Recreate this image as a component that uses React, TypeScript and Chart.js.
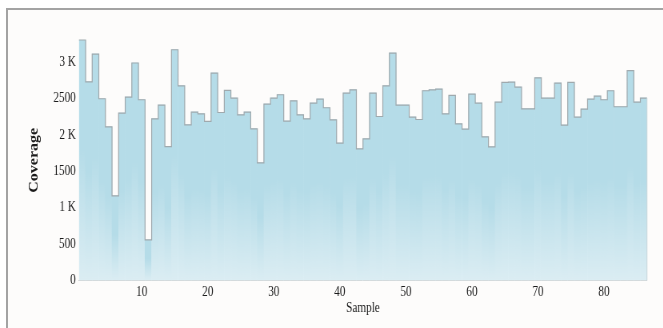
import React, { useEffect, useRef } from 'react';
import { Chart, registerables } from 'chart.js';

Chart.register(...registerables);

const samples = [
  '1', '2', '3', '4', '5', '6', '7', '8', '9', '10',
  '11', '12', '13', '14', '15', '16', '17', '18', '19', '20',
  '21', '22', '23', '24', '25', '26', '27', '28', '29', '30',
  '31', '32', '33', '34', '35', '36', '37', '38', '39', '40',
  '41', '42', '43', '44', '45', '46', '47', '48', '49', '50',
  '51', '52', '53', '54', '55', '56', '57', '58', '59', '60',
  '61', '62', '63', '64', '65', '66', '67', '68', '69', '70',
  '71', '72', '73', '74', '75', '76', '77', '78', '79', '80',
  '81', '82', '83', '84', '85', '86',
];

const coverage = [
  3304, 2730, 3111, 2497, 2111, 1162, 2300, 2520, 2988, 2483,
  557, 2221, 2410, 1840, 3170, 2675, 2139, 2313, 2290, 2185,
  2850, 2308, 2611, 2506, 2276, 2313, 2084, 1616, 2423, 2506,
  2552, 2190, 2469, 2276, 2221, 2437, 2492, 2373, 2208, 1887,
  2575, 2620, 1809, 1946, 2575, 2253, 2675, 3125, 2410, 2410,
  2245, 2212, 2607, 2620, 2630, 2290, 2542, 2153, 2080, 2561,
  2437, 1974, 1836, 2451, 2721, 2726, 2657, 2359, 2359, 2785,
  2506, 2506, 2712, 2135, 2721, 2245, 2355, 2492, 2533, 2483,
  2607, 2387, 2387, 2882, 2451, 2506,
];

const xTickLabels = ['10', '20', '30', '40', '50', '60', '70', '80'];
const yTickValues = [0, 500, 1000, 1500, 2000, 2500, 3000];
const yMax = 3304;

const SERIF = "'Liberation Serif', 'Times New Roman', serif";
const TOP_COLOR = '#b5dce8';
const BOTTOM_COLOR = '#dbedf3';
const OUTLINE_COLOR = '#a0a9ad';

function formatY(v: number): string {
  if (v !== 0 && v % 1000 === 0) return `${v / 1000} K`;
  return String(v);
}

const stepOutline = {
  id: 'stepOutline',
  afterDatasetsDraw(chart: any) {
    const meta = chart.getDatasetMeta(0);
    if (!meta || !meta.data || !meta.data.length) return;
    const ctx = chart.ctx;
    ctx.save();
    ctx.beginPath();
    let lastR = 0;
    let lastBase = 0;
    meta.data.forEach((bar: any, i: number) => {
      const { x, y, width, base } = bar.getProps(['x', 'y', 'width', 'base'], true);
      const l = x - width / 2;
      const r = x + width / 2;
      if (i === 0) ctx.moveTo(l, y);
      else ctx.lineTo(l, y);
      ctx.lineTo(r, y);
      lastR = r;
      lastBase = base;
    });
    ctx.strokeStyle = OUTLINE_COLOR;
    ctx.lineWidth = 1.2;
    ctx.lineJoin = 'miter';
    ctx.stroke();
    const lastBar = meta.data[meta.data.length - 1];
    ctx.beginPath();
    ctx.moveTo(lastR, lastBar.y);
    ctx.lineTo(lastR, lastBase);
    ctx.strokeStyle = '#c6d5da';
    ctx.lineWidth = 1;
    ctx.stroke();
    ctx.restore();
  },
};

export default function App() {
  const ref = useRef<HTMLCanvasElement>(null);

  useEffect(() => {
    const canvas = ref.current;
    if (!canvas) return;

    const barFill = (ctx: any) => {
      const chart = ctx.chart;
      if (!chart.chartArea || ctx.type !== 'data') return TOP_COLOR;
      const ys = chart.scales.y;
      const top = ys.getPixelForValue(coverage[ctx.dataIndex]);
      const bottom = ys.getPixelForValue(0);
      if (!isFinite(top) || !isFinite(bottom) || bottom - top < 1) return TOP_COLOR;
      const g = chart.ctx.createLinearGradient(0, top, 0, bottom);
      g.addColorStop(0, TOP_COLOR);
      g.addColorStop(0.45, TOP_COLOR);
      g.addColorStop(1, BOTTOM_COLOR);
      return g;
    };

    const chart = new Chart(canvas, {
      type: 'bar',
      data: {
        labels: samples,
        datasets: [
          {
            data: coverage,
            backgroundColor: barFill,
            borderWidth: 0,
            barPercentage: 1,
            categoryPercentage: 1,
            grouped: false,
          } as any,
        ],
      },
      plugins: [stepOutline],
      options: {
        responsive: false,
        animation: false,
        devicePixelRatio: 1,
        layout: { padding: { left: 29, right: 20.25, top: 40, bottom: 7 } },
        plugins: {
          legend: { display: false },
          tooltip: { enabled: false },
        },
        scales: {
          x: {
            type: 'category',
            offset: true,
            grid: { display: false, drawTicks: false },
            border: { display: true, color: '#cfcfcf', width: 1 },
            ticks: {
              autoSkip: false,
              maxRotation: 0,
              padding: 3,
              color: '#1a1a1a',
              font: { family: SERIF, size: 14 },
              callback: (_v: any, i: number) =>
                xTickLabels.includes(samples[i]) ? samples[i] : '',
            },
            title: {
              display: true,
              text: 'Sample',
              color: '#1a1a1a',
              font: { family: SERIF, size: 14 },
              padding: { top: 4, bottom: 4 },
            },
            afterFit: (s: any) => {
              s.height = 40.5;
            },
          },
          y: {
            type: 'linear',
            min: 0,
            max: yMax,
            grid: { display: false, drawTicks: false },
            border: { display: false },
            ticks: {
              stepSize: 500,
              includeBounds: false,
              padding: 4,
              color: '#1a1a1a',
              font: { family: SERIF, size: 14 },
              callback: (v: any) => formatY(Number(v)),
            },
            afterBuildTicks: (s: any) => {
              s.ticks = yTickValues.map((value) => ({ value }));
            },
            title: {
              display: true,
              text: 'Coverage',
              color: '#1a1a1a',
              font: { family: SERIF, size: 16, weight: 'bold' },
              padding: { top: 4, bottom: 4 },
            },
            afterFit: (s: any) => {
              s.width = 69.75;
            },
          },
        },
      } as any,
    });

    return () => {
      chart.destroy();
    };
  }, []);

  return (
    <div
      style={{
        position: 'fixed',
        left: 0,
        top: 0,
        width: 663,
        height: 328,
        overflow: 'hidden',
        background: '#ffffff',
      }}
    >
      <div
        style={{
          position: 'absolute',
          left: 6,
          top: 8,
          width: 720,
          height: 400,
          border: '2px solid #a3a3a3',
          background: '#fdfcfb',
        }}
      />
      <canvas
        ref={ref}
        width={829}
        height={328}
        style={{
          position: 'absolute',
          left: 0,
          top: 0,
          width: '829px',
          height: '328px',
          transform: 'scaleX(0.8)',
          transformOrigin: '0 0',
        }}
      />
    </div>
  );
}
